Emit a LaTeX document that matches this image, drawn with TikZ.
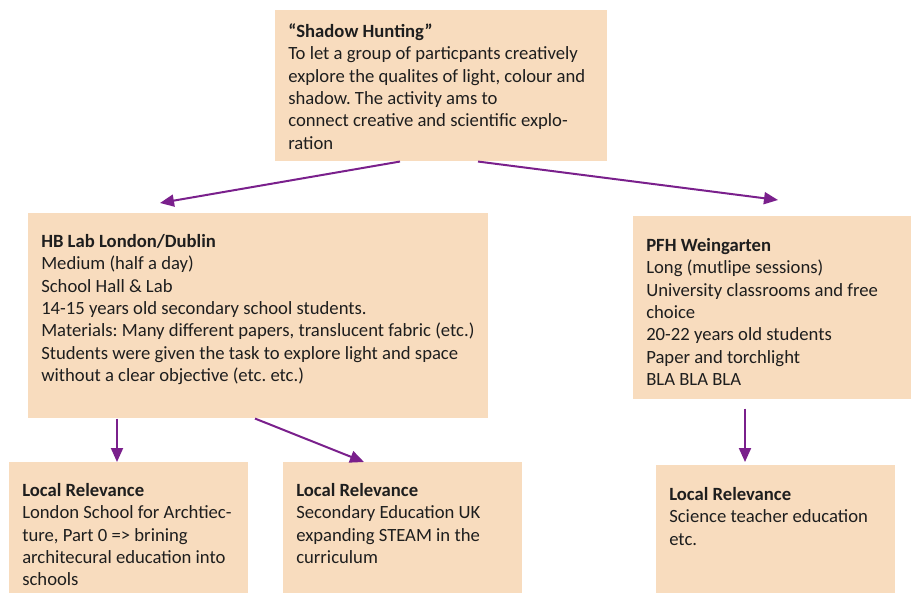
\documentclass[tikz,border=0pt]{standalone}
\usepackage{fontspec}
\setmainfont{Carlito}
\usetikzlibrary{arrows.meta,calc}

\definecolor{peach}{RGB}{248,220,190}
\definecolor{linkpurple}{RGB}{122,32,140}
\definecolor{ink}{RGB}{30,30,30}

% box text: width, height, lines
\newcommand{\cardbody}[3]{\parbox[t][#2][t]{#1}{\raggedright\frenchspacing\strut#3}}

\tikzset{
  card/.style={fill=peach, anchor=north west, inner xsep=9.75pt, text=ink,
    font=\fontsize{14}{16.8}\selectfont},
  link/.style={draw=linkpurple, line width=1.5pt,
    -{Triangle[length=10.5pt,width=9pt]}}
}

\begin{document}
\begin{tikzpicture}[x=0.75pt,y=-0.75pt]
  \useasboundingbox (0,0) rectangle (912,592);
  \clip (0,0) rectangle (912,592);

  % activity
  \node[card, inner ysep=8.5pt] (hunt) at (275,10)
    {\cardbody{229.5pt}{96.25pt}{\textbf{“Shadow Hunting”}\\
      To let a group of particpants creatively\\
      explore the qualites of light, colour and\\
      shadow. The activity ams to\\
      connect creative and scientific explo-\\
      ration}};

  % the two sites
  \node[card, inner ysep=13.8pt] (hb) at (28,213)
    {\cardbody{325.5pt}{126.15pt}{\textbf{HB Lab London/Dublin}\\
      Medium (half a day)\\
      School Hall \& Lab\\
      14-15 years old secondary school students.\\
      Materials: Many different papers, translucent fabric (etc.)\\
      Students were given the task to explore light and space\\
      without a clear objective (etc. etc.)}};
  \node[card, inner ysep=14.55pt] (pfh) at (633,216)
    {\cardbody{189pt}{108.15pt}{\textbf{PFH Weingarten}\\
      Long (mutlipe sessions)\\
      University classrooms and free\\
      choice\\
      20-22 years old students\\
      Paper and torchlight\\
      BLA BLA BLA}};

  % local relevance
  \node[card, inner ysep=13.8pt] (rel1) at (9,462)
    {\cardbody{159.75pt}{90.9pt}{\textbf{Local Relevance}\\
      London School for Archtiec-\\
      ture, Part 0 => brining\\
      architecural education into\\
      schools}};
  \node[card, inner ysep=13.8pt] (rel2) at (283,462)
    {\cardbody{159.75pt}{90.9pt}{\textbf{Local Relevance}\\
      Secondary Education UK\\
      expanding STEAM in the\\
      curriculum}};
  \node[card, inner ysep=14.55pt] (rel3) at (656,465)
    {\cardbody{159.75pt}{87.15pt}{\textbf{Local Relevance}\\
      Science teacher education\\
      etc.}};

  \draw[link] ($(hunt.south west)+(125,0)$) -- ($(hb.north west)+(132,-10)$);
  \draw[link] ($(hunt.south west)+(203,0)$) -- ($(pfh.north west)+(145,-16)$);
  \draw[link] ($(hb.south west)+(89,0)$) -- ($(rel1.north west)+(108,0)$);
  \draw[link] ($(hb.south west)+(227,0)$) -- ($(rel2.north west)+(81,0)$);
  \draw[link] ($(pfh.south west)+(112,9)$) -- ($(rel3.north west)+(89,-3)$);
\end{tikzpicture}
\end{document}
